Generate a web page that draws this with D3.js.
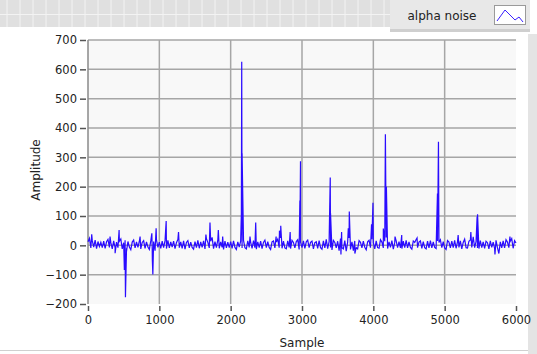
<!DOCTYPE html>
<html>
<head>
<meta charset="utf-8">
<script src="https://cdn.jsdelivr.net/npm/d3@7"></script>
<style>
  body { margin: 0; background: #fff; }
  text { font-family: "DejaVu Sans", sans-serif; fill: #222; }
</style>
</head>
<body>
<svg id="chart" width="537" height="354"></svg>
<script>
// baseline noise, one value every 20 samples
const noiseStep = 20;
const noise = [
  12, 24, -9, 16, -6, 18, -11, 13, -4, 10, -8, 14, -10, 12, 20, -7, 9, -12, 15, -9,
  11, -8, 14, 22, -12, 9, 17, -10, 13, -6, -15, 11, 18, -9, 12, -7, 14, -12, 10, 16,
  -10, 12, -6, -14, 15, -8, 13, -18, 19, -7, 11, -10, 14, -8, 16, -11, 17, -9, 12, -6,
  14, -11, 9, 20, -8, 12, -10, 15, -13, 10, 16, -9, 11, -7, -13, 13, -8, 17, -10, 12,
  -7, 15, -12, 23, 10, -9, 14, 27, -11, 13, -8, 19, -10, 12, -7, -14, 14, -9, 11, -8,
  13, -10, 15, -7, -14, 12, -6, 14, -9, 17, -8, -12, 15, -7, 11, -10, 16, -8, -13, 12,
  -8, 14, -11, 10, 18, -8, 13, -7, -14, 12, 15, -9, 11, 21, -8, 25, -10, 14, -9, -12,
  15, -7, -11, 17, 10, -9, 13, 19, -14, 11, -8, 15, -10, 12, 18, -8, 10, 14, -12, 9,
  12, -10, 16, -8, -13, 15, -9, 20, -11, 13, -7, -16, 17, 10, -9, 14, -18, 23, -8, -12,
  16, -20, 11, 25, -14, 12, -18, 15, -8, -12, 16, 10, -9, 14, -7, -15, 12, 17, -8, 21,
  9, -12, 15, -8, -10, 19, 11, -9, 14, 27, -11, 12, -7, 16, -13, 10, 15, -8, 13, -9,
  -11, 14, -8, 17, -9, 12, -7, -13, 15, 10, 20, -8, 11, 15, -10, 13, -8, -12, 14, -9,
  16, -9, 12, -7, -11, 15, 10, 19, -8, 13, -9, -14, 16, 11, -9, 14, -8, 17, -10, 12,
  -7, 15, -12, 10, 21, -8, -9, 14, 18, -7, 29, -8, 13, -9, -11, 16, -8, 12, -10, 14,
  9, -12, 15, -7, 11, -10, 17, -8, -28, 12, -9, 15, -9, 19, 11, -8, 14, 23, -10, 16,
  8
];
// spikes: sample index and amplitude
const spikeSamples = [52, 309, 380, 436, 510, 525, 540, 730, 895, 902, 909, 955, 1096, 1269,
  1653, 1710, 1827, 1888, 2150, 2155, 2160, 2271, 2351, 2637, 2684, 2702, 2834, 2970, 2975, 2979,
  3396, 3400, 3546, 3555, 3649, 3663, 3741, 3975, 3995, 4140, 4169, 4183, 4304, 4398, 4613,
  4899, 4913, 5189, 5367, 5455, 5461, 5705, 5915];
const spikeValues = [38, 30, -27, 52, -84, -177, -20, 30, 41, -50, -99, 58, 83, 45,
  37, 78, 52, 30, 109, 626, 314, 30, 78, 30, 50, 67, 45, 150, 155, 287,
  231, 109, -31, 45, 58, 115, -28, 72, 145, 57, 379, 200, 30, 35, 25,
  177, 353, 35, 45, 98, 106, -31, 30];
const xTicks = [0, 1000, 2000, 3000, 4000, 5000, 6000];
const yTicks = [-200, -100, 0, 100, 200, 300, 400, 500, 600, 700];
const seriesName = "alpha noise";

const points = noise.map((v, i) => ({ s: i * noiseStep, v: v }))
  .concat(spikeSamples.map((s, i) => ({ s: s, v: spikeValues[i] })))
  .sort((a, b) => a.s - b.s);

const svg = d3.select("#chart");
const x = d3.scaleLinear().domain([0, 6000]).range([88, 516]);
const y = d3.scaleLinear().domain([-200, 700]).range([304, 40]);

// top toolbar strip with faint grid
const strip = svg.append("g");
strip.append("rect").attr("x", 0).attr("y", 0).attr("width", 390).attr("height", 27).attr("fill", "#e0e0e0");
strip.selectAll("line.v").data(d3.range(7, 390, 13)).join("line")
  .attr("x1", d => d).attr("x2", d => d).attr("y1", 0).attr("y2", 27)
  .attr("stroke", "#f3f3f3").attr("stroke-width", 1);
strip.append("line").attr("x1", 0).attr("x2", 390).attr("y1", 14.5).attr("y2", 14.5)
  .attr("stroke", "#f3f3f3");

// legend
const lg = svg.append("g");
lg.append("rect").attr("x", 390).attr("y", 29).attr("width", 140).attr("height", 3).attr("fill", "#cfcfcf");
lg.append("rect").attr("x", 390).attr("y", 0).attr("width", 140).attr("height", 29).attr("fill", "#e8e8e8");
lg.append("text").attr("x", 442).attr("y", 20).attr("text-anchor", "middle")
  .style("font-size", "12px").text(seriesName);
lg.append("rect").attr("x", 494.5).attr("y", 5.5).attr("width", 31).attr("height", 19)
  .attr("fill", "#fff").attr("stroke", "#9a9a9a");
lg.append("path").attr("d", "M497,21 L505,10 L515,20 L519,17 L523,22")
  .attr("fill", "none").attr("stroke", "#3a20ff").attr("stroke-width", 1);

// right frame and bottom line
svg.append("rect").attr("x", 528).attr("y", 34).attr("width", 9).attr("height", 320).attr("fill", "#e4e4e4");
svg.append("line").attr("x1", 0).attr("x2", 528).attr("y1", 350.5).attr("y2", 350.5).attr("stroke", "#d0d0d0");

// plot area
svg.append("rect").attr("x", x(0)).attr("y", y(700)).attr("width", x(6000) - x(0))
  .attr("height", y(-200) - y(700)).attr("fill", "#f8f8f8");

svg.append("g").selectAll("line").data(yTicks.filter(d => d > -200)).join("line")
  .attr("x1", x(0)).attr("x2", x(6000)).attr("y1", d => y(d)).attr("y2", d => y(d))
  .attr("stroke", "#a6a6a6").attr("stroke-width", 1.5);
svg.append("g").selectAll("line").data(xTicks.filter(d => d > 0 && d < 6000)).join("line")
  .attr("x1", d => x(d)).attr("x2", d => x(d)).attr("y1", y(700)).attr("y2", y(-200))
  .attr("stroke", "#a6a6a6").attr("stroke-width", 1.5);
svg.append("line").attr("x1", x(0)).attr("x2", x(0)).attr("y1", y(700)).attr("y2", y(-200))
  .attr("stroke", "#8a8a8a").attr("stroke-width", 1.5);

// signal
const line = d3.line().x(d => x(d.s)).y(d => y(d.v));
svg.append("path").datum(points).attr("d", line)
  .attr("fill", "none").attr("stroke", "#2a0cff").attr("stroke-width", 1.2);

// axes
const yAxis = d3.axisLeft(y).tickValues(yTicks).tickSize(6).tickPadding(3);
const gy = svg.append("g").attr("transform", "translate(" + (x(0) - 2) + ",0)").call(yAxis);
gy.select(".domain").remove();
gy.selectAll(".tick line").attr("stroke", "#555").attr("stroke-width", 1.5);
gy.selectAll(".tick text").style("font-size", "11.5px").attr("fill", "#222").style("font-family", "DejaVu Sans");

const xAxis = d3.axisBottom(x).tickValues(xTicks).tickFormat(d3.format("d")).tickSize(5).tickPadding(5);
const gx = svg.append("g").attr("transform", "translate(0," + (y(-200) + 2) + ")").call(xAxis);
gx.select(".domain").remove();
gx.selectAll(".tick line").attr("stroke", "#555").attr("stroke-width", 1.5);
gx.selectAll(".tick text").style("font-size", "11.5px").attr("fill", "#222").style("font-family", "DejaVu Sans");

svg.append("text").attr("x", 302).attr("y", 347).attr("text-anchor", "middle")
  .style("font-size", "12px").text("Sample");
svg.append("text").attr("transform", "translate(40,170) rotate(-90)").attr("text-anchor", "middle")
  .style("font-size", "12px").text("Amplitude");
</script>
</body>
</html>
